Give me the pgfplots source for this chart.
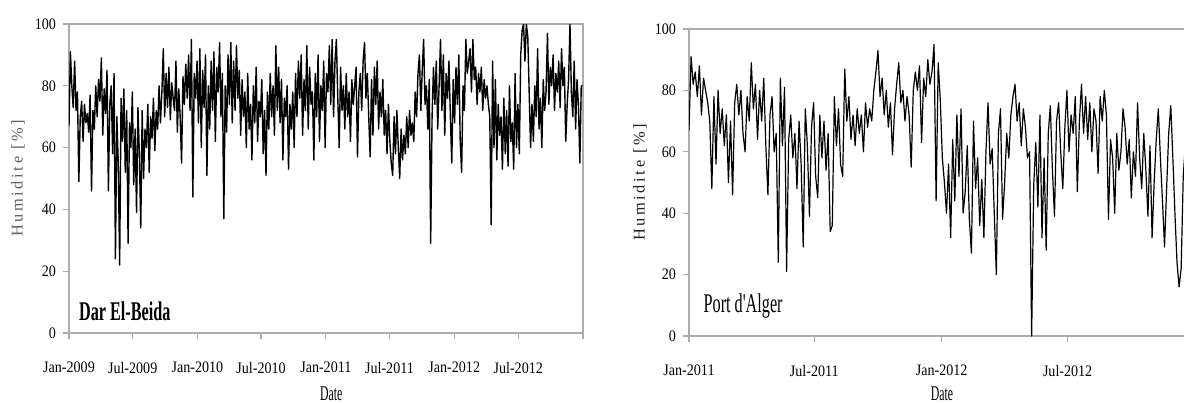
\documentclass[border=0pt]{standalone}
\usepackage{fontspec}
\setmainfont{Liberation Serif}
\newfontfamily\tickfont{Liberation Serif}[FakeStretch=0.88]
\newfontfamily\labfont{Liberation Serif}[LetterSpace=16]
\newfontfamily\annfont{Liberation Serif}[FakeStretch=0.6]
\newfontfamily\datefont{Liberation Serif}[FakeStretch=0.56]
\usepackage{pgfplots}
\usepackage{pgfplotstable}
\pgfplotsset{compat=1.18}
\definecolor{framegray}{RGB}{172,172,172}

% Dar El-Beida, humidity (%), one value every 4 days from 1 Jan 2009
\pgfplotstableread[row sep=\\]{y\\
67\\91\\80\\73\\88\\72\\78\\49\\70\\75\\
62\\74\\68\\71\\65\\77\\46\\72\\66\\80\\
70\\82\\75\\89\\64\\79\\71\\85\\46\\74\\
80\\58\\84\\24\\70\\55\\22\\76\\62\\79\\
52\\72\\29\\68\\60\\78\\48\\66\\39\\73\\
58\\34\\72\\50\\66\\60\\74\\52\\70\\63\\
76\\59\\72\\66\\80\\68\\78\\92\\70\\84\\
73\\86\\69\\81\\76\\72\\88\\65\\79\\70\\
55\\83\\74\\87\\76\\90\\72\\95\\44\\84\\
76\\88\\68\\92\\60\\85\\73\\90\\51\\80\\
66\\88\\72\\91\\62\\86\\78\\94\\70\\84\\
37\\80\\65\\90\\74\\94\\68\\88\\72\\93\\
76\\85\\64\\82\\70\\78\\60\\84\\66\\74\\
56\\80\\68\\86\\62\\75\\70\\82\\58\\72\\
51\\78\\66\\84\\70\\80\\64\\93\\72\\86\\
68\\82\\56\\76\\70\\80\\53\\74\\66\\78\\
60\\84\\70\\88\\76\\90\\64\\82\\72\\93\\
66\\86\\74\\78\\56\\84\\70\\90\\62\\80\\
72\\88\\60\\84\\78\\93\\74\\95\\70\\88\\
95\\76\\60\\86\\72\\80\\66\\84\\70\\78\\
62\\82\\74\\80\\86\\57\\78\\84\\72\\88\\
94\\76\\84\\70\\57\\82\\64\\86\\74\\88\\
66\\78\\70\\82\\64\\72\\58\\74\\62\\55\\
51\\70\\58\\72\\60\\50\\66\\56\\64\\58\\
70\\60\\72\\64\\68\\62\\78\\70\\84\\90\\
72\\85\\95\\74\\80\\66\\82\\29\\70\\86\\
74\\88\\66\\80\\95\\72\\90\\64\\84\\76\\
88\\70\\55\\82\\68\\86\\74\\90\\62\\52\\
80\\72\\95\\84\\88\\92\\78\\95\\82\\86\\
74\\84\\78\\86\\72\\82\\76\\80\\74\\70\\
35\\88\\60\\82\\56\\74\\64\\70\\53\\76\\
58\\72\\54\\80\\62\\68\\53\\84\\60\\74\\
58\\90\\98\\100\\88\\100\\96\\78\\60\\74\\
62\\80\\70\\92\\66\\76\\60\\82\\72\\78\\
97\\74\\86\\80\\90\\72\\84\\78\\88\\73\\
92\\80\\86\\62\\74\\82\\100\\78\\70\\88\\
66\\82\\74\\55\\80\\80\\
}\dardata

% Port d'Alger, humidity (%), one value every 3 days from 1 Jan 2011
\pgfplotstableread[row sep=\\]{y\\
67\\91\\82\\86\\78\\88\\72\\84\\80\\76\\
70\\48\\78\\56\\80\\66\\74\\62\\72\\50\\
70\\46\\76\\82\\72\\80\\66\\60\\78\\70\\
89\\74\\82\\64\\80\\70\\84\\62\\46\\72\\
78\\60\\66\\24\\84\\62\\81\\21\\64\\72\\
58\\66\\48\\70\\56\\29\\74\\62\\39\\68\\
76\\52\\45\\72\\58\\70\\54\\66\\34\\36\\
78\\62\\74\\56\\52\\87\\70\\78\\64\\72\\
62\\74\\66\\72\\60\\76\\68\\74\\70\\80\\
86\\93\\78\\84\\72\\80\\68\\76\\59\\74\\
82\\89\\76\\80\\70\\78\\72\\55\\80\\86\\
80\\88\\63\\84\\78\\90\\82\\86\\95\\44\\
89\\77\\58\\50\\40\\56\\32\\64\\44\\72\\
52\\74\\40\\47\\62\\38\\27\\70\\48\\58\\
36\\51\\32\\60\\76\\56\\61\\40\\20\\66\\
74\\38\\50\\66\\58\\72\\78\\82\\70\\76\\
62\\74\\68\\58\\60\\0\\49\\63\\42\\72\\
32\\58\\28\\66\\75\\54\\39\\70\\76\\60\\
48\\68\\80\\60\\72\\66\\78\\47\\70\\82\\
66\\78\\64\\76\\60\\74\\70\\53\\78\\70\\
80\\72\\38\\64\\58\\40\\66\\54\\60\\74\\
68\\56\\64\\45\\60\\52\\76\\58\\48\\66\\
54\\39\\62\\32\\50\\64\\74\\58\\44\\29\\
48\\66\\75\\58\\40\\24\\16\\22\\52\\62\\
58\\70\\64\\60\\
}\algerdata

\pgfplotsset{
  hum/.style={
    scale only axis,
    ymin=0, ymax=100, ytick={0,20,...,100},
    axis line style={framegray, line width=0.6pt},
    tick style={framegray, line width=0.6pt},
    tick align=outside,
    major tick length=3pt,
    xtick pos=bottom, ytick pos=left,
    /pgf/number format/assume math mode=true,
    tick label style={font=\tickfont\fontsize{8}{9}\selectfont, text=black},
    xticklabel style={yshift=-8pt},
    xlabel={Date},
    ylabel={Humidite [\%]},
  }
}

\begin{document}
\begin{tikzpicture}
\path[use as bounding box] (0,0) rectangle (592pt,201.5pt);

\begin{axis}[hum,
  at={(34.5pt,35pt)}, anchor=south west,
  width=257pt, height=154.5pt,
  xmin=0, xmax=1461,
  xtick={0,181,365,546,730,911,1095,1277,1461},
  xticklabels={Jan-2009,Jul-2009,Jan-2010,Jul-2010,Jan-2011,Jul-2011,Jan-2012,Jul-2012,{}},
  every axis x label/.style={at={(axis description cs:0.51,-0.22)}, anchor=base,
     font=\datefont\fontsize{10.5}{11}\selectfont, text=black},
  every axis y label/.style={at={(axis description cs:-0.099,0.5)}, rotate=90, anchor=center,
     font=\labfont\fontsize{8.2}{9}\selectfont, text=black!62},
]
\addplot[black, line width=0.7pt, line join=round, mark=none] table[x expr=\coordindex*4, y=y] {\dardata};
\node[anchor=base west, font=\annfont\bfseries\fontsize{13.5}{14}\selectfont] at (rel axis cs:0.006,0.042) {Dar El-Beida};
\end{axis}

\begin{axis}[hum,
  at={(344.5pt,33.5pt)}, anchor=south west,
  width=253pt, height=153.5pt,
  xmin=0, xmax=731,
  xtick={0,181,365,547,731},
  xticklabels={Jan-2011,Jul-2011,Jan-2012,Jul-2012,{}},
  every axis x label/.style={at={(axis description cs:0.5,-0.2117)}, anchor=base,
     font=\datefont\fontsize{10.5}{11}\selectfont, text=black},
  every axis y label/.style={at={(axis description cs:-0.097,0.5)}, rotate=90, anchor=center,
     font=\labfont\fontsize{8.2}{9}\selectfont, text=black!88},
]
\addplot[black, line width=0.6pt, line join=round, mark=none] table[x expr=\coordindex*3, y=y] {\algerdata};
\node[anchor=base west, font=\annfont\fontsize{13.5}{14}\selectfont] at (rel axis cs:0.015,0.075) {Port d'Alger};
\end{axis}
\end{tikzpicture}
\end{document}
